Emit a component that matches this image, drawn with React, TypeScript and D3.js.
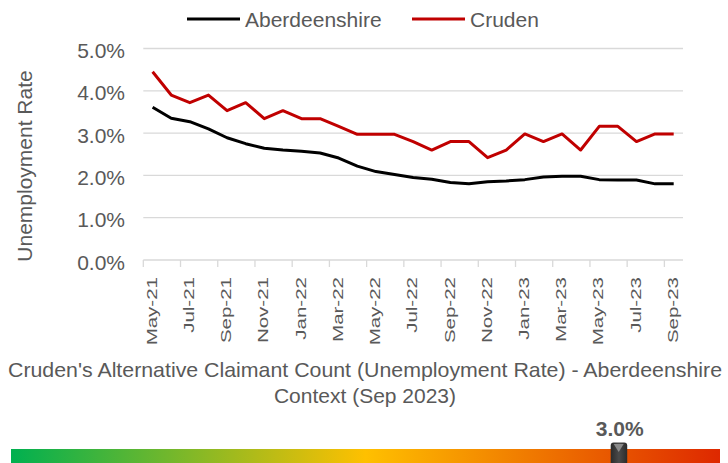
import React from "react";
import * as d3 from "d3";

const months = [
  "May-21", "Jun-21", "Jul-21", "Aug-21", "Sep-21", "Oct-21", "Nov-21", "Dec-21",
  "Jan-22", "Feb-22", "Mar-22", "Apr-22", "May-22", "Jun-22", "Jul-22", "Aug-22",
  "Sep-22", "Oct-22", "Nov-22", "Dec-22", "Jan-23", "Feb-23", "Mar-23", "Apr-23",
  "May-23", "Jun-23", "Jul-23", "Aug-23", "Sep-23",
];

const aberdeenshire = [
  3.61, 3.35, 3.27, 3.1, 2.89, 2.75, 2.64, 2.6, 2.57, 2.53, 2.41, 2.22, 2.09, 2.02, 1.95,
  1.91, 1.83, 1.8, 1.85, 1.87, 1.9, 1.96, 1.98, 1.98, 1.9, 1.89, 1.89, 1.8, 1.8,
];

const cruden = [
  4.45, 3.9, 3.72, 3.9, 3.53, 3.72, 3.34, 3.53, 3.34, 3.34, 3.16, 2.97, 2.97, 2.97, 2.8,
  2.6, 2.8, 2.8, 2.42, 2.6, 2.98, 2.8, 2.98, 2.6, 3.16, 3.16, 2.8, 2.98, 2.98,
];

const yTicks = [0, 1, 2, 3, 4, 5];
const series = [
  { name: "Aberdeenshire", values: aberdeenshire, color: "#000000" },
  { name: "Cruden", values: cruden, color: "#c00000" },
];

const currentValue = 3.0;
const gaugeMax = 3.5;
const gaugeStops = [
  { offset: "0%", color: "#00b050" },
  { offset: "50%", color: "#ffc000" },
  { offset: "100%", color: "#de2800" },
];

const FONT = "'Liberation Sans', Arial, sans-serif";
const TEXT = "#595959";

export default function App() {
  const x = d3.scaleBand<string>().domain(months).range([143.3, 683]).padding(0);
  const y = d3.scaleLinear().domain([0, 5]).range([260, 48.5]);
  const cx = (i: number) => (x(months[i]) ?? 0) + x.bandwidth() / 2;

  const line = d3
    .line<number>()
    .x((_, i) => cx(i))
    .y((d) => y(d));

  const gx = d3.scaleLinear().domain([0, gaugeMax]).range([11, 720]);
  const mx = gx(currentValue);

  const tickIdx = months.map((_, i) => i).filter((i) => i % 2 === 0);

  return (
    <svg
      width={728}
      height={463}
      style={{ position: "absolute", left: 0, top: 0, display: "block" }}
      fontFamily={FONT}
    >
      <defs>
        <linearGradient id="gauge" x1="0" x2="1" y1="0" y2="0">
          {gaugeStops.map((s) => (
            <stop key={s.offset} offset={s.offset} stopColor={s.color} />
          ))}
        </linearGradient>
        <linearGradient id="marker" x1="0" x2="1" y1="0" y2="0">
          <stop offset="0%" stopColor="#2b2b2b" />
          <stop offset="50%" stopColor="#4a4a4a" />
          <stop offset="100%" stopColor="#2b2b2b" />
        </linearGradient>
      </defs>

      {/* legend */}
      {series.map((s, i) => {
        const lx = i === 0 ? 187 : 412;
        return (
          <g key={s.name}>
            <line x1={lx} x2={lx + 53} y1={19} y2={19} stroke={s.color} strokeWidth={3} />
            <text x={lx + 58} y={26.5} fontSize={21} fill={TEXT}>
              {s.name}
            </text>
          </g>
        );
      })}

      {/* gridlines + y labels */}
      {yTicks.map((t) => (
        <g key={t}>
          {t > 0 && (
            <line x1={143.3} x2={683} y1={y(t)} y2={y(t)} stroke="#d9d9d9" strokeWidth={1.3} />
          )}
          <text x={125} y={y(t) + 9.5} fontSize={21} fill={TEXT} textAnchor="end">
            {d3.format(".1f")(t) + "%"}
          </text>
        </g>
      ))}

      {/* x axis */}
      <line x1={143.3} x2={683} y1={260} y2={260} stroke="#d9d9d9" strokeWidth={1.3} />
      {tickIdx.map((i) => (
        <line
          key={i}
          x1={x(months[i])}
          x2={x(months[i])}
          y1={260}
          y2={267}
          stroke="#d9d9d9"
          strokeWidth={1.3}
        />
      ))}
      {tickIdx.map((i) => (
        <text
          key={months[i]}
          transform={`translate(${cx(i) - 1},277) rotate(-90) scale(1,0.72)`}
          fontSize={20.5}
          fill={TEXT}
          textAnchor="end"
          dy="0.35em"
        >
          {months[i]}
        </text>
      ))}

      {/* y title */}
      <text
        transform="translate(31.5,166) rotate(-90)"
        fontSize={21}
        fill={TEXT}
        textAnchor="middle"
      >
        Unemployment Rate
      </text>

      {/* series */}
      {series.map((s) => (
        <path
          key={s.name}
          d={line(s.values) ?? ""}
          fill="none"
          stroke={s.color}
          strokeWidth={3}
          strokeLinejoin="round"
        />
      ))}

      {/* caption */}
      <text x={365} y={377} fontSize={21} fill={TEXT} textAnchor="middle" textLength={714} lengthAdjust="spacingAndGlyphs">
        Cruden's Alternative Claimant Count (Unemployment Rate) - Aberdeenshire
      </text>
      <text x={365} y={403} fontSize={21} fill={TEXT} textAnchor="middle">
        Context (Sep 2023)
      </text>

      {/* gauge */}
      <rect x={gx(0)} y={449} width={gx(gaugeMax) - gx(0)} height={20} fill="url(#gauge)" />
      <rect x={mx - 8} y={442.5} width={16.5} height={26} rx={3} fill="url(#marker)" />
      <path
        d={`M${mx - 5},${444} L${mx + 5},${444} L${mx},${452} Z`}
        fill="#8a8a8a"
      />
      <text x={mx + 1} y={436} fontSize={21} fontWeight="bold" fill={TEXT} textAnchor="middle">
        {d3.format(".1f")(currentValue) + "%"}
      </text>
    </svg>
  );
}
